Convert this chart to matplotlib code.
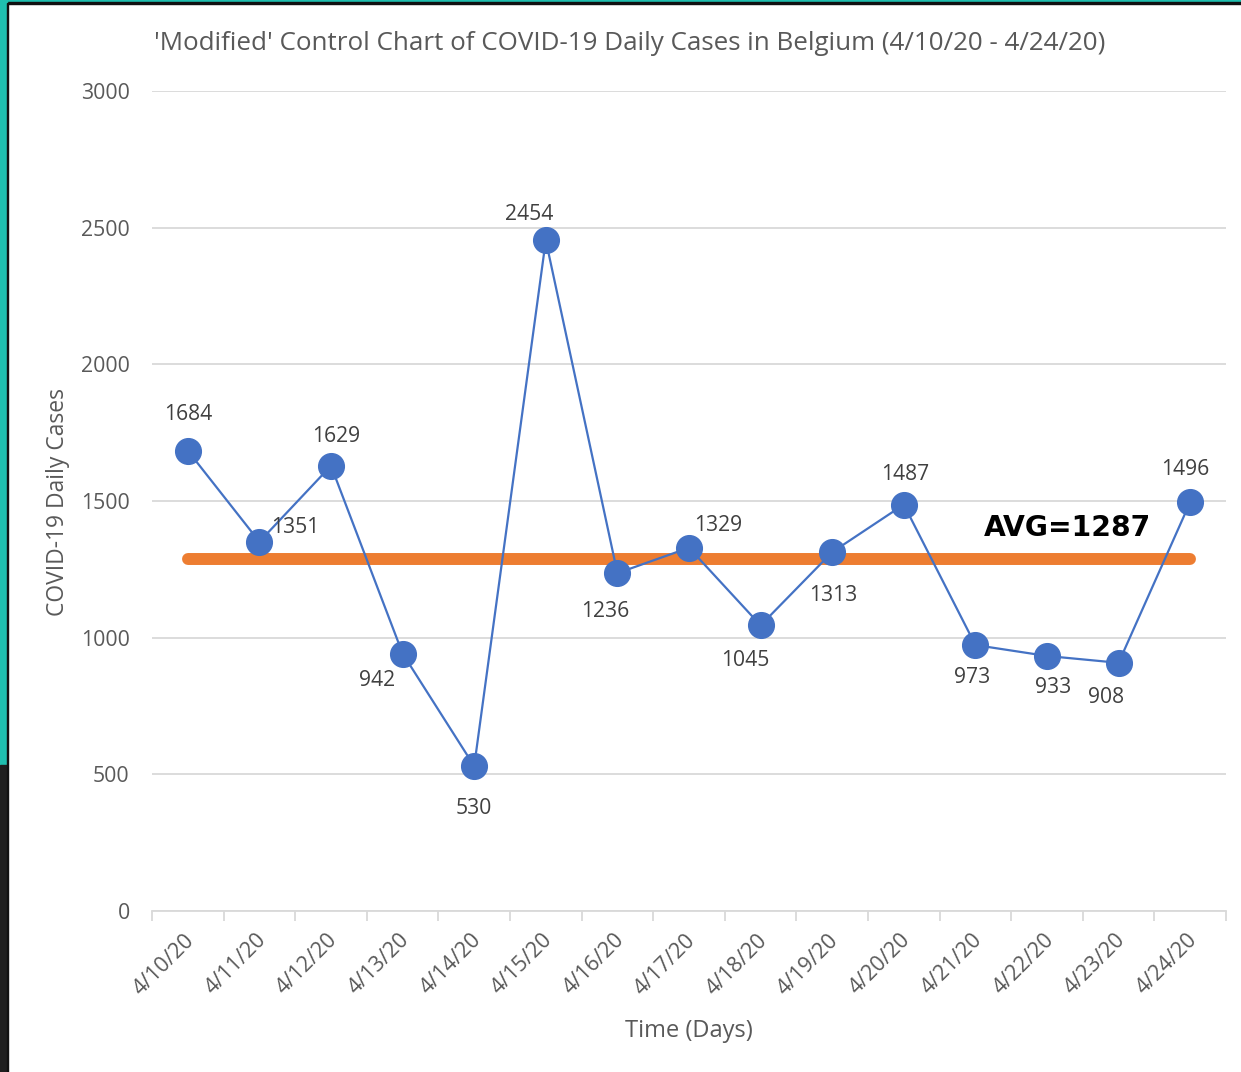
import matplotlib
matplotlib.use("Agg")
import matplotlib.pyplot as plt
import matplotlib.transforms as mtransforms
from matplotlib.patches import Rectangle

dates = ["4/10/20", "4/11/20", "4/12/20", "4/13/20", "4/14/20", "4/15/20", "4/16/20",
         "4/17/20", "4/18/20", "4/19/20", "4/20/20", "4/21/20", "4/22/20", "4/23/20", "4/24/20"]
cases = [1684, 1351, 1629, 942, 530, 2454, 1236, 1329, 1045, 1313, 1487, 973, 933, 908, 1496]
avg_value = 1287
avg_label = "AVG=1287"

# label offsets in pixels (dx right, dy up)
label_offsets_px = [(0, 36), (36, 14), (5, 29), (-26, -27), (0, -42), (-17, 26), (-12, -38),
                    (29, 22), (-15, -35), (1, -43), (1, 30), (-3, -32), (6, -32), (-13, -35), (-5, 33)]

plt.rcParams['font.family'] = ['Open Sans', 'DejaVu Sans']
gray = '#595959'
grid_c = '#D9D9D9'

fig = plt.figure(figsize=(12.41, 10.72), dpi=100)
W, H = 1241, 1072

# decorative border
fig.patches.append(Rectangle((0, 1 - 3 / H), 1, 3 / H, transform=fig.transFigure,
                             color='#1FBFAF', zorder=0))
fig.patches.append(Rectangle((0, 1 - 4 / H), 1, 1.5 / H, transform=fig.transFigure,
                             color='#111111', zorder=0))
fig.patches.append(Rectangle((0, 0), 7 / W, 1, transform=fig.transFigure,
                             color='#1FBFAF', zorder=0))
fig.patches.append(Rectangle((0, 0), 7 / W, 1 - 765 / H, transform=fig.transFigure,
                             color='#1F1F1F', zorder=0))
fig.patches.append(Rectangle((6.5 / W, 0), 1.8 / W, 1 - 3 / H, transform=fig.transFigure,
                             color='#111111', zorder=0))

ax = fig.add_axes([152 / W, 1 - 911 / H, (1226 - 152) / W, (911 - 91) / H])
x = list(range(len(dates)))

ax.set_xlim(-0.5, len(dates) - 0.5)
ax.set_ylim(0, 3000)
ax.set_yticks([0, 500, 1000, 1500, 2000, 2500, 3000])
ax.grid(axis='y', color=grid_c, linewidth=1.3, zorder=0)
ax.set_axisbelow(True)
for s in ['top', 'right', 'left']:
    ax.spines[s].set_visible(False)
ax.spines['bottom'].set_color(grid_c)
ax.spines['bottom'].set_linewidth(1.3)

ax.set_xticks([i - 0.5 for i in range(len(dates) + 1)])
ax.set_xticklabels([])
ax.tick_params(axis='x', which='major', length=7, color=grid_c, width=1.3)
ax.set_xticks(x, minor=True)
ax.set_xticklabels(dates, minor=True, rotation=45, ha='right', va='top',
                   rotation_mode='anchor', fontsize=15.5, color=gray)
ax.tick_params(axis='x', which='minor', length=0, pad=12)
shift = mtransforms.ScaledTranslation(-4 / 100, -2 / 100, fig.dpi_scale_trans)
for lbl in ax.get_xticklabels(minor=True):
    lbl.set_transform(lbl.get_transform() + shift)
ax.tick_params(axis='y', length=0, labelsize=15.3, labelcolor=gray, pad=16)

ax.plot([x[0], x[-1]], [avg_value, avg_value], color='#ED7D31', linewidth=8.6,
        solid_capstyle='round', zorder=2)
ax.plot(x, cases, color='#4472C4', linewidth=1.6, marker='o', markersize=18.5,
        markerfacecolor='#4472C4', markeredgecolor='#4472C4', zorder=3)

for xi, v, (dx, dy) in zip(x, cases, label_offsets_px):
    ax.annotate(str(v), (xi, v), xytext=(dx * 0.72, dy * 0.72), textcoords='offset points',
                ha='center', va='center', fontsize=15.2, color='#404040', zorder=4)

ax.text(12.28, 1400, avg_label, ha='center', va='center', fontsize=20.3,
        fontweight='bold', color='black', family=['DejaVu Sans'])

fig.text(630 / W, 1 - 44 / H,
         "'Modified' Control Chart of COVID-19 Daily Cases in Belgium (4/10/20 - 4/24/20)",
         ha='center', va='center', fontsize=18.7, color=gray)
fig.text(58 / W, 1 - 502 / H, "COVID-19 Daily Cases", rotation=90, ha='center', va='center',
         fontsize=16.5, color=gray)
fig.text(689 / W, 1 - 1031 / H, "Time (Days)", ha='center', va='center', fontsize=17, color=gray)

fig.savefig("out.png", dpi=100)
